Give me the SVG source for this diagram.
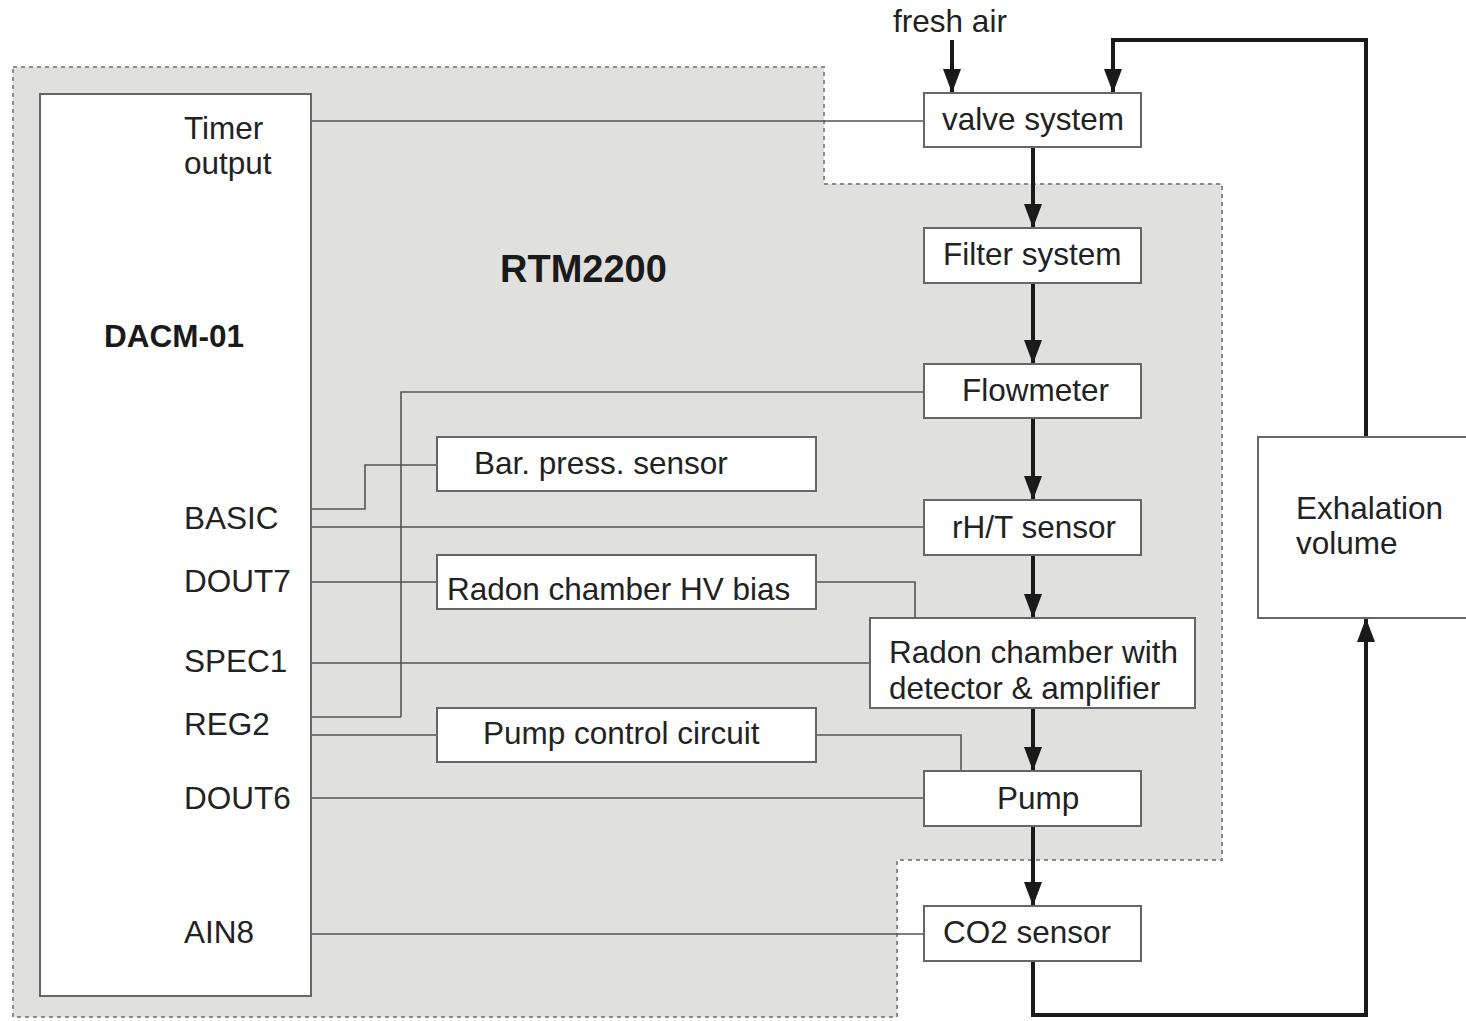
<svg xmlns="http://www.w3.org/2000/svg" width="1466" height="1021" viewBox="0 0 1466 1021">
<style>
.box{fill:#fff;stroke:#666;stroke-width:2}
.t{font-family:"Liberation Sans",Arial,sans-serif;font-size:31.5px;fill:#222}
.b{font-family:"Liberation Sans",Arial,sans-serif;font-weight:bold;fill:#1a1a1a}
.w{fill:none;stroke:#555;stroke-width:1.6}
.f{fill:none;stroke:#1a1a1a;stroke-width:4}
</style>
<defs>
<marker id="ah" viewBox="0 0 24 18" refX="24" refY="9" markerWidth="24" markerHeight="18" markerUnits="userSpaceOnUse" orient="auto">
<path d="M0,0 L24,9 L0,18 z" fill="#1a1a1a"/>
</marker>
</defs>
<rect width="1466" height="1021" fill="#fff"/>
<g id="rtm2200">
<path d="M13,67 H824 V184 H1222 V860 H897 V1017 H13 Z" fill="#e0e0de" stroke="#8a8a8a" stroke-width="2" stroke-dasharray="4,4"/>
<text class="b" x="500" y="282" font-size="38">RTM2200</text>
</g>
<g id="connectors">
<path class="w" d="M311,121 H924"/>
<path class="w" d="M311,509 H365 V465 H437"/>
<path class="w" d="M311,527 H924"/>
<path class="w" d="M401,717 V392 H924"/>
<path class="w" d="M311,717 H401"/>
<path class="w" d="M311,582 H437"/>
<path class="w" d="M816,582 H915 V618"/>
<path class="w" d="M311,663 H870"/>
<path class="w" d="M311,735 H437"/>
<path class="w" d="M816,735 H961 V771"/>
<path class="w" d="M311,798 H924"/>
<path class="w" d="M311,934 H924"/>
<path class="f" d="M952,40 V93" marker-end="url(#ah)"/>
<path class="f" d="M1366,437 V40 H1113 V93" marker-end="url(#ah)"/>
<path class="f" d="M1033,147 V228" marker-end="url(#ah)"/>
<path class="f" d="M1033,283 V364" marker-end="url(#ah)"/>
<path class="f" d="M1033,418 V500" marker-end="url(#ah)"/>
<path class="f" d="M1033,555 V618" marker-end="url(#ah)"/>
<path class="f" d="M1033,708 V771" marker-end="url(#ah)"/>
<path class="f" d="M1033,826 V906" marker-end="url(#ah)"/>
<path class="f" d="M1033,961 V1015 H1366 V618" marker-end="url(#ah)"/>
</g>
<g id="dacm01">
<rect class="box" x="40" y="94" width="271" height="902"/>
<text class="t" x="184" y="139">Timer</text>
<text class="t" x="184" y="174">output</text>
<text class="b" x="104" y="347" font-size="31.5">DACM-01</text>
<text class="t" x="184" y="529">BASIC</text>
<text class="t" x="184" y="592">DOUT7</text>
<text class="t" x="184" y="672">SPEC1</text>
<text class="t" x="184" y="735">REG2</text>
<text class="t" x="184" y="809">DOUT6</text>
<text class="t" x="184" y="943">AIN8</text>
</g>
<g id="freshair"><text class="t" x="950" y="32" text-anchor="middle">fresh air</text></g>
<g id="valve"><rect class="box" x="924" y="93" width="217" height="54"/><text class="t" x="942" y="130">valve system</text></g>
<g id="filter"><rect class="box" x="924" y="228" width="217" height="55"/><text class="t" x="943" y="265">Filter system</text></g>
<g id="flowmeter"><rect class="box" x="924" y="364" width="217" height="54"/><text class="t" x="962" y="401">Flowmeter</text></g>
<g id="rht"><rect class="box" x="924" y="500" width="217" height="55"/><text class="t" x="952" y="538">rH/T sensor</text></g>
<g id="radon"><rect class="box" x="870" y="618" width="325" height="90"/><text class="t" x="889" y="663">Radon chamber with</text><text class="t" x="889" y="699">detector &amp; amplifier</text></g>
<g id="pump"><rect class="box" x="924" y="771" width="217" height="55"/><text class="t" x="997" y="809">Pump</text></g>
<g id="co2"><rect class="box" x="924" y="906" width="217" height="55"/><text class="t" x="943" y="943">CO2 sensor</text></g>
<g id="exhalation"><rect class="box" x="1258" y="437" width="212" height="181"/><text class="t" x="1296" y="519">Exhalation</text><text class="t" x="1296" y="554">volume</text></g>
<g id="barpress"><rect class="box" x="437" y="437" width="379" height="54"/><text class="t" x="474" y="474">Bar. press. sensor</text></g>
<g id="hvbias"><rect class="box" x="437" y="555" width="379" height="54"/><text class="t" x="447" y="600">Radon chamber HV bias</text></g>
<g id="pumpctrl"><rect class="box" x="437" y="708" width="379" height="54"/><text class="t" x="483" y="744">Pump control circuit</text></g>
</svg>
